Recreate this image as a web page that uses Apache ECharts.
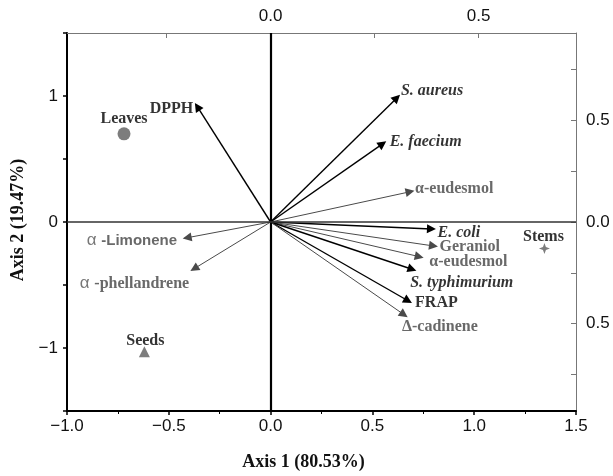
<!DOCTYPE html>
<html lang="en">
<head>
<meta charset="UTF-8">
<title>PCA biplot</title>
<script src="https://cdn.jsdelivr.net/npm/echarts@6.0.0/dist/echarts.min.js"></script>
<style>
    html, body { margin: 0; padding: 0; background: #fff; }
    #chart { width: 613px; height: 476px; }
</style>
</head>
<body>
<div id="chart"></div>
<script>
// variables (arrows), in Axis 1 / Axis 2 units
var varNames = ['DPPH', 'S. aureus', 'E. faecium', 'α-eudesmol', 'E. coli', 'Geraniol',
    'α-eudesmol', 'S. typhimurium', 'FRAP', 'Δ-cadinene', 'α -Limonene', 'α -phellandrene'];
var varX = [-0.36, 0.62, 0.55, 0.685, 0.79, 0.80, 0.73, 0.695, 0.675, 0.655, -0.41, -0.375];
var varY = [0.915, 0.985, 0.62, 0.24, -0.055, -0.19, -0.275, -0.375, -0.625, -0.735, -0.125, -0.37];
var varKind = ['activity', 'bacteria', 'bacteria', 'compound', 'bacteria', 'compound',
    'compound', 'bacteria', 'activity', 'compound', 'compound', 'compound'];

// plant organs (points)
var siteNames = ['Leaves', 'Seeds', 'Stems'];
var siteX = [-0.72, -0.62, 1.345];
var siteY = [0.70, -1.03, -0.21];

// secondary axes ticks
var topLabels = [0, 0.5];
var topTicks = [-0.25, 0, 0.25, 0.5];
var rightLabels = [-0.5, 0, 0.5];
var rightTicks = [-0.75, -0.5, -0.25, 0, 0.25, 0.5, 0.75];
var leftLabels = [-1, 0, 1];

var SERIF = 'Liberation Serif';
var SANS = 'Liberation Sans';

// label placement per arrow: [position, distance, offset]
var arrowLabelPos = [
    ['left', 4, [0, 2]], ['right', 4, [0, -7]], ['right', 7, [0, -2]], ['right', 5, [0, -3]],
    ['right', 6, [0, 4]], ['right', 6, [0, 1]], ['right', 10, [0, 5]], ['right', 0, [-2, 14]],
    ['right', 7, [0, 2]], ['right', 0, [-2, 12]], ['left', 10, [0, 3]], ['left', 5, [0, 15]]
];
var siteLabelOffset = [[0, -15], [1, -11], [-1, -12]];
var siteSymbols = ['circle', 'triangle', 'path://M0,-6 L1.6,-1.6 L6,0 L1.6,1.6 L0,6 L-1.6,1.6 L-6,0 L-1.6,-1.6 Z'];
var siteSizes = [13, 11, 11];

function minus(v, d) {
    return v < 0 ? '\u2212' + (-v).toFixed(d) : v.toFixed(d);
}

function arrowColor(k) {
    return k === 'compound' ? '#4a4a4a' : '#000';
}

function arrowText(i) {
    var n = varNames[i];
    if (varKind[i] === 'bacteria') return '{it|' + n + '}';
    if (varKind[i] === 'activity') return '{bk|' + n + '}';
    if (n.indexOf('Limonene') >= 0) return '{al|α }{sb|' + n.replace('α ', '') + '}';
    if (n.indexOf('phellandrene') >= 0) return '{al|α }{gr|' + n.replace('α ', '') + '}';
    return '{gr|' + n + '}';
}

var rich = {
    it: {fontFamily: SERIF, fontSize: 16, fontWeight: 'bold', fontStyle: 'italic', color: '#000'},
    bk: {fontFamily: SERIF, fontSize: 16, fontWeight: 'bold', color: '#000'},
    gr: {fontFamily: SERIF, fontSize: 16, fontWeight: 'bold', color: '#444'},
    sb: {fontFamily: SANS, fontSize: 15, fontWeight: 'bold', color: '#444'},
    al: {fontFamily: SANS, fontSize: 17, color: '#555'}
};

var tickFont = {fontFamily: SANS, fontSize: 17, color: '#111'};

var chart = echarts.init(document.getElementById('chart'));

var option = {
    animation: false,
    grid: {left: 67, right: 37, top: 33, bottom: 63},
    xAxis: [{
        type: 'value', position: 'bottom', min: -1, max: 1.5, interval: 0.5,
        axisLine: {onZero: false, lineStyle: {color: '#000', width: 2}},
        axisTick: {length: 4, lineStyle: {color: '#000', width: 1.5}},
        minorTick: {show: true, splitNumber: 2, length: 3, lineStyle: {color: '#000', width: 1}},
        splitLine: {show: false},
        axisLabel: Object.assign({margin: 7, formatter: function (v) { return minus(v, 1); }}, tickFont),
        name: 'Axis 1 (80.53%)', nameLocation: 'middle', nameGap: 42,
        nameTextStyle: {fontFamily: SERIF, fontSize: 18, fontWeight: 'bold', color: '#111', padding: [0, 36, 0, 0]}
    }, {
        type: 'value', position: 'top', min: -0.489, max: 0.734,
        axisLine: {onZero: false, lineStyle: {color: '#777', width: 1}},
        axisTick: {inside: true, length: 5, customValues: topTicks, lineStyle: {color: '#777'}},
        splitLine: {show: false},
        axisLabel: Object.assign({margin: 8, customValues: topLabels,
            formatter: function (v) { return v.toFixed(1); }}, tickFont)
    }],
    yAxis: [{
        type: 'value', position: 'left', min: -1.5, max: 1.5, interval: 0.5,
        axisLine: {onZero: false, lineStyle: {color: '#000', width: 2}},
        axisTick: {length: 4, lineStyle: {color: '#000', width: 1.5}},
        splitLine: {show: false},
        axisLabel: Object.assign({margin: 9, customValues: leftLabels,
            formatter: function (v) { return minus(v, 0); }}, tickFont),
        name: 'Axis 2 (19.47%)', nameLocation: 'middle', nameGap: 40, nameRotate: 90,
        nameTextStyle: {fontFamily: SERIF, fontSize: 18, fontWeight: 'bold', color: '#111', padding: [0, 0, 0, 4]}
    }, {
        type: 'value', position: 'right', min: -0.93, max: 0.93,
        axisLine: {onZero: false, lineStyle: {color: '#777', width: 1}},
        axisTick: {inside: true, length: 5, customValues: rightTicks, lineStyle: {color: '#777'}},
        splitLine: {show: false},
        axisLabel: Object.assign({margin: 10, customValues: rightLabels,
            formatter: function (v) { return Math.abs(v).toFixed(1); }}, tickFont)
    }],
    series: [{
        type: 'scatter', name: 'organs', xAxisIndex: 0, yAxisIndex: 0, z: 5,
        data: siteNames.map(function (n, i) {
            return {
                name: n, value: [siteX[i], siteY[i]],
                symbol: siteSymbols[i], symbolSize: siteSizes[i],
                label: {offset: siteLabelOffset[i]}
            };
        }),
        itemStyle: {color: '#7d7d7d', opacity: 1},
        label: {
            show: true, position: 'inside', formatter: '{b}',
            fontFamily: SERIF, fontSize: 16, fontWeight: 'bold', color: '#333'
        },
        markLine: {
            silent: true, symbol: ['none', 'none'], label: {show: false},
            data: [
                {xAxis: 0, lineStyle: {color: '#000', width: 2.2, type: 'solid'}},
                {yAxis: 0, lineStyle: {color: '#333', width: 1.5, type: 'solid'}}
            ]
        }
    }, {
        type: 'lines', coordinateSystem: 'cartesian2d', xAxisIndex: 0, yAxisIndex: 0, z: 4,
        symbol: ['none', 'triangle'], symbolSize: 9,
        data: varNames.map(function (n, i) {
            var c = arrowColor(varKind[i]);
            return {
                name: n, coords: [[0, 0], [varX[i], varY[i]]],
                lineStyle: {color: c, width: varKind[i] === 'compound' ? 1 : 1.4, opacity: 1, curveness: 0}
            };
        })
    }, {
        type: 'scatter', name: 'labels', xAxisIndex: 0, yAxisIndex: 0, z: 6, silent: true,
        symbolSize: 0.1, itemStyle: {color: 'transparent'},
        data: varNames.map(function (n, i) {
            var p = arrowLabelPos[i];
            return {
                name: n, value: [varX[i], varY[i]],
                label: {position: p[0], distance: p[1], offset: p[2]}
            };
        }),
        label: {
            show: true,
            formatter: function (params) { return arrowText(params.dataIndex); },
            rich: rich
        }
    }]
};

chart.setOption(option);
</script>
</body>
</html>
